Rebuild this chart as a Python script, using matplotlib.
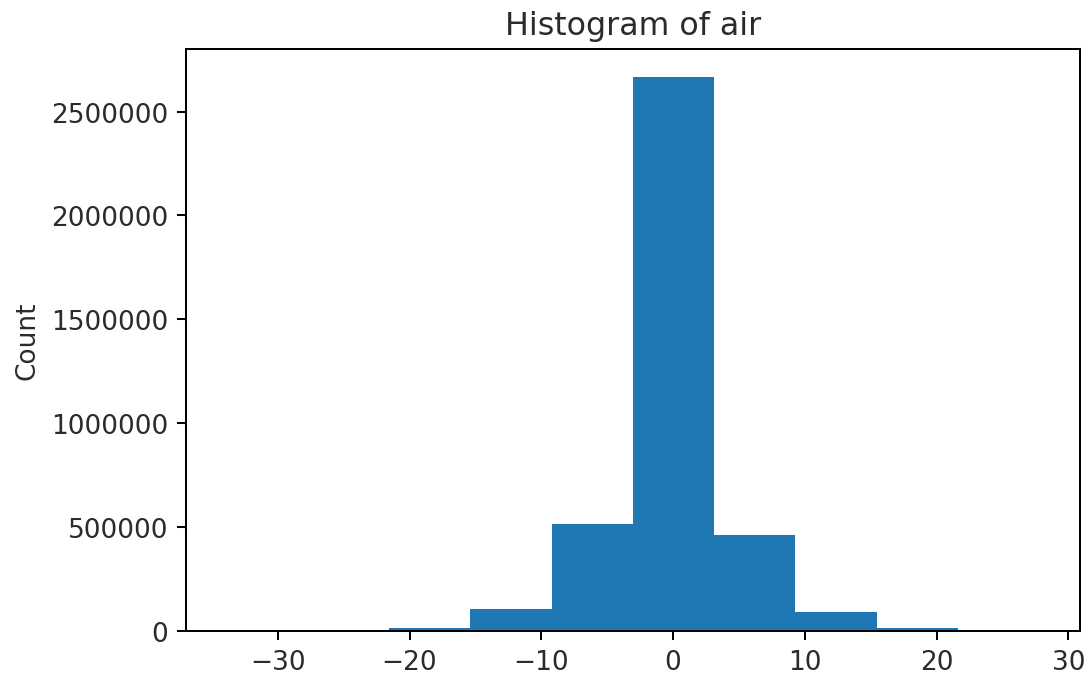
import matplotlib
matplotlib.use("Agg")
import matplotlib.pyplot as plt
import numpy as np

# bin edges and counts
bin_edges = [-33.9, -27.73, -21.56, -15.39, -9.22, -3.05, 3.12, 9.29, 15.46, 21.63, 27.8]
counts = [60, 900, 14000, 106000, 515000, 2668000, 462000, 91500, 12000, 300]

if __name__ == "__main__":
    txt = "#2b2b2b"
    plt.rcParams["text.color"] = txt
    plt.rcParams["axes.labelcolor"] = txt
    plt.rcParams["xtick.labelcolor"] = txt
    plt.rcParams["ytick.labelcolor"] = txt
    plt.rcParams["font.size"] = 10.5

    fig, ax = plt.subplots(figsize=(6.0, 3.7624), dpi=181)
    fig.subplots_adjust(left=0.171, right=0.9945, top=0.9266, bottom=0.072)

    edges = np.array(bin_edges)
    centers = (edges[:-1] + edges[1:]) / 2
    ax.hist(centers, bins=edges, weights=counts, color="#1f77b4")

    ax.ticklabel_format(axis="y", style="plain", useOffset=False)
    ax.set_ylabel("Count")
    ax.set_title("Histogram of air", fontsize=12.6)

    plt.savefig("out.png", dpi=181)
